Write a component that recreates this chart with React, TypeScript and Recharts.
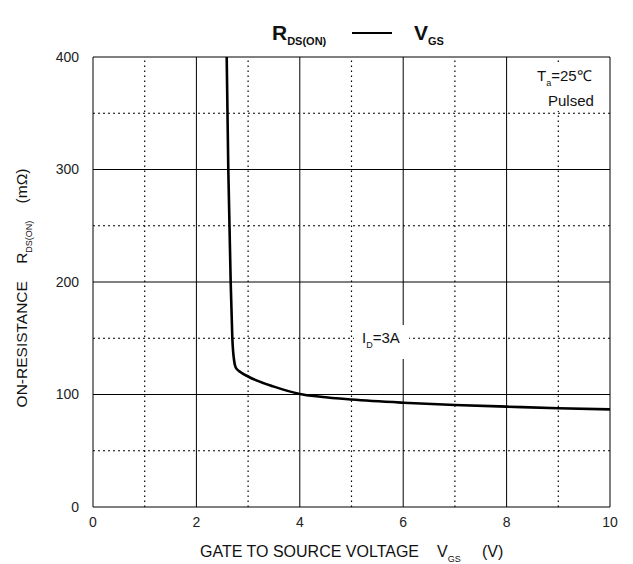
import React from "react";
import { LineChart, Line, XAxis, YAxis, ReferenceLine } from "recharts";

const vgs = [2.586, 2.617, 2.663, 2.695, 2.73, 2.76, 2.85, 3.0, 3.5, 4.0, 4.4, 5, 6, 7, 8, 9, 10];
const rdsOn = [400, 300, 200, 150, 130, 124, 120, 116, 107, 100.5, 98, 95.5, 92.7, 90.7, 89.2, 87.8, 86.8];

const xMajor = [0, 2, 4, 6, 8, 10];
const xMinor = [1, 3, 5, 7, 9];
const yMajor = [0, 100, 200, 300, 400];
const yMinor = [50, 150, 250, 350];

const data = vgs.map((v, i) => ({ vgs: v, r: rdsOn[i] }));

const FONT = "'Liberation Sans', Arial, sans-serif";

const Annotations = () => (
  <svg
    width={633}
    height={564}
    style={{ position: "absolute", left: 0, top: 0, pointerEvents: "none" }}
  >
    <g fontFamily={FONT} fill="#111">
      <text x={272} y={40} fontSize={21} fontWeight="bold">
        R<tspan fontSize={11} dy={5}>DS(ON)</tspan>
      </text>
      <line x1={352} y1={33} x2={392} y2={33} stroke="#000" strokeWidth={2} />
      <text x={414} y={40} fontSize={21} fontWeight="bold">
        V<tspan fontSize={11} dy={5}>GS</tspan>
      </text>
      <rect x={528} y={63} width={78} height={48} fill="#fff" />
      <text x={537} y={81} fontSize={15}>
        T<tspan fontSize={9} dy={5}>a</tspan>
        <tspan dy={-5}>=25℃</tspan>
      </text>
      <text x={548} y={106} fontSize={15}>Pulsed</text>
      <rect x={354} y={325} width={55} height={34} fill="#fff" />
      <text x={362} y={343} fontSize={15}>
        I<tspan fontSize={9} dy={5}>D</tspan>
        <tspan dy={-5}>=3A</tspan>
      </text>
      <text x={200} y={557} fontSize={16}>
        GATE TO SOURCE VOLTAGE
        <tspan x={437}>V</tspan>
        <tspan fontSize={9} dy={5}>GS</tspan>
        <tspan x={482} dy={-5}>(V)</tspan>
      </text>
      <g transform="translate(27,288) rotate(-90)">
        <text x={0} y={0} fontSize={15.5} textAnchor="middle">
          ON-RESISTANCE{"\u00a0\u00a0\u00a0\u00a0"}R<tspan fontSize={9} dy={5}>DS(ON)</tspan>
          <tspan dy={-5}>{"\u00a0\u00a0\u00a0\u00a0"}(mΩ)</tspan>
        </text>
      </g>
    </g>
  </svg>
);

export default function App() {
  return (
    <div style={{ position: "absolute", left: 0, top: 0, width: 633, height: 564, background: "#fff" }}>
      <LineChart
        width={633}
        height={564}
        data={data}
        margin={{ top: 57, right: 23, bottom: 27, left: 43 }}
      >
        <XAxis
          type="number"
          dataKey="vgs"
          domain={[0, 10]}
          ticks={xMajor}
          tickLine={false}
          axisLine={false}
          height={30}
          tickMargin={4}
          tick={{ fontSize: 14, fill: "#222", fontFamily: FONT }}
          allowDataOverflow
        />
        <YAxis
          type="number"
          domain={[0, 400]}
          ticks={yMajor}
          tickLine={false}
          axisLine={false}
          width={50}
          tickMargin={8}
          tick={{ fontSize: 14, fill: "#222", fontFamily: FONT }}
          allowDataOverflow
        />
        {xMinor.map((v) => (
          <ReferenceLine key={"xm" + v} x={v} stroke="#000" strokeWidth={1.2} strokeDasharray="1.5 3.5" />
        ))}
        {yMinor.map((v) => (
          <ReferenceLine key={"ym" + v} y={v} stroke="#000" strokeWidth={1.2} strokeDasharray="2 3" />
        ))}
        {xMajor.map((v) => (
          <ReferenceLine key={"xM" + v} x={v} stroke="#000" strokeWidth={1} />
        ))}
        {yMajor.map((v) => (
          <ReferenceLine key={"yM" + v} y={v} stroke="#000" strokeWidth={1} />
        ))}
        <Line
          type="monotone"
          dataKey="r"
          stroke="#000"
          strokeWidth={2.6}
          dot={false}
          isAnimationActive={false}
        />
      </LineChart>
      <Annotations />
    </div>
  );
}
